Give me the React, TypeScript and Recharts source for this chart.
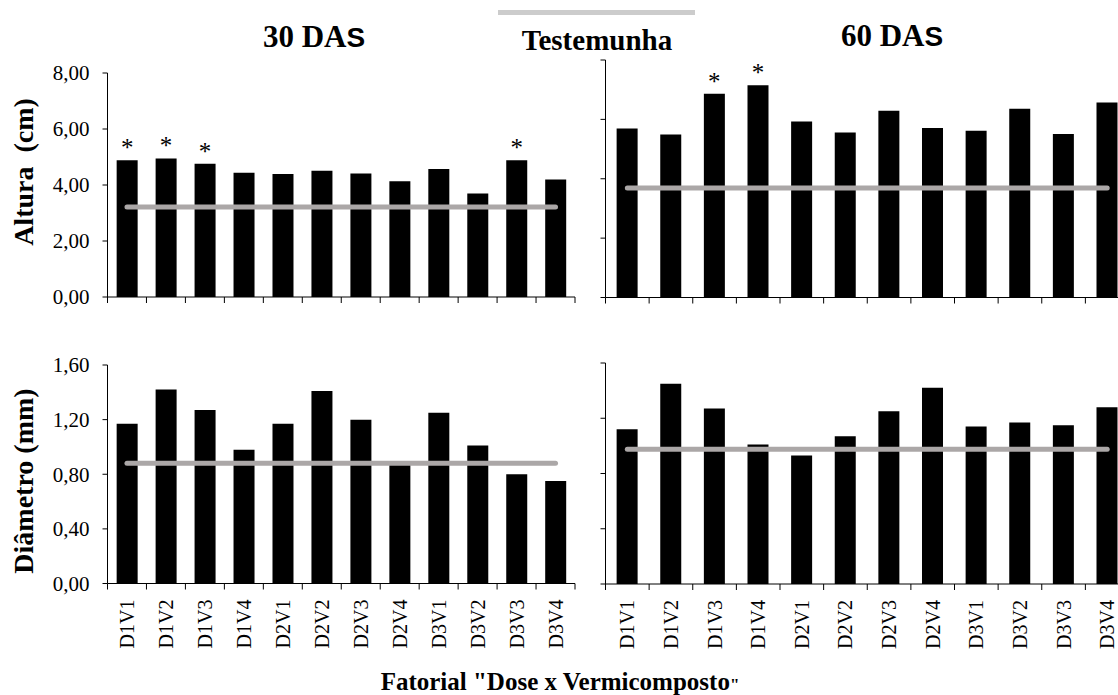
import React from 'react';
import { ComposedChart, Bar, Line, Scatter, XAxis, YAxis, LabelList } from 'recharts';

const categories = ['D1V1', 'D1V2', 'D1V3', 'D1V4', 'D2V1', 'D2V2', 'D2V3', 'D2V4', 'D3V1', 'D3V2', 'D3V3', 'D3V4'];

const altura30 = [4.88, 4.95, 4.76, 4.44, 4.39, 4.51, 4.41, 4.13, 4.57, 3.7, 4.88, 4.2];
const altura60 = [5.69, 5.49, 6.86, 7.15, 5.93, 5.56, 6.29, 5.71, 5.62, 6.36, 5.51, 6.57];
const diametro30 = [1.17, 1.42, 1.27, 0.98, 1.17, 1.41, 1.2, 0.87, 1.25, 1.01, 0.8, 0.75];
const diametro60 = [1.12, 1.45, 1.27, 1.01, 0.93, 1.07, 1.25, 1.42, 1.14, 1.17, 1.15, 1.28];

const testemunhaAltura30 = 3.21;
const testemunhaAltura60 = 3.69;
const testemunhaDiametro30 = 0.88;
const testemunhaDiametro60 = 0.975;

const sigAltura30 = ['*', '*', '*', '', '', '', '', '', '', '', '*', ''];
const sigAltura60 = ['', '', '*', '*', '', '', '', '', '', '', '', ''];
const noSig = ['', '', '', '', '', '', '', '', '', '', '', ''];

const alturaTicks = [0, 2, 4, 6, 8];
const diametroTicks = [0, 0.4, 0.8, 1.2, 1.6];
const boundaryTicks = [0, 1, 2, 3, 4, 5, 6, 7, 8, 9, 10, 11, 12];

const FONT = '"Liberation Serif", "Times New Roman", serif';
const SANS = '"Liberation Sans", Arial, sans-serif';

type Row = { name: string; pos: number; value: number; control: number; mark: string };

// pos = category slot centre on the 0..12 boundary axis (slot index + half a slot)
function build(values: number[], control: number, marks: string[]): Row[] {
  return categories.map((c, i) => ({ name: c, pos: i + 0.5, value: values[i], control, mark: marks[i] }));
}

// category boundaries, placed on the baseline (value 0) of the boundary axis
const boundaryData = boundaryTicks.map((b) => ({ pos: b, base: 0 }));

const fmt = (v: number) => v.toFixed(2).replace('.', ',');

function XLabelTick(props: any) {
  const { x, y, payload } = props;
  return (
    <text
      transform={`translate(${x},${y}) rotate(-90)`}
      textAnchor="end"
      dy="0.35em"
      fontFamily={FONT}
      fontSize={20}
      fill="#000"
    >
      {payload.value}
    </text>
  );
}

// Excel-style tick mark hanging below the category axis at a category boundary
function BoundaryMark(props: any) {
  const { cx, cy } = props;
  if (cx == null || cy == null) return <g />;
  return <line x1={cx} x2={cx} y1={cy} y2={cy + 6} stroke="#000" strokeWidth={1} />;
}

function EmptyTick() {
  return <g />;
}

type PanelProps = {
  data: Row[];
  ticks: number[];
  domainMax: number;
  showYLabels: boolean;
  showXLabels: boolean;
  left: number;
  top: number;
  width: number;
  height: number;
  margin: { top: number; right: number; bottom: number; left: number };
  yWidth: number;
  xHeight: number;
  gap: string;
};

function Panel(p: PanelProps) {
  return (
    <div style={{ position: 'absolute', left: p.left, top: p.top, width: p.width, height: p.height }}>
      <ComposedChart width={p.width} height={p.height} data={p.data} margin={p.margin} barCategoryGap={p.gap}>
        <XAxis
          xAxisId={0}
          dataKey="pos"
          type="number"
          domain={[0, 12]}
          ticks={boundaryTicks}
          interval={0}
          height={1}
          tick={false}
          tickLine={false}
          stroke="#000"
          axisLine={{ stroke: '#000' }}
        />
        <XAxis
          xAxisId={1}
          dataKey="name"
          type="category"
          hide={!p.showXLabels}
          height={p.xHeight}
          axisLine={false}
          tickLine={false}
          tickSize={6}
          tickMargin={9}
          interval={0}
          tick={<XLabelTick />}
        />
        <YAxis
          domain={[0, p.domainMax]}
          ticks={p.ticks}
          interval={0}
          width={p.yWidth}
          stroke="#000"
          tickSize={5}
          tickMargin={13}
          tickFormatter={fmt}
          tick={p.showYLabels ? { fontFamily: FONT, fontSize: 21, fill: '#000' } : <EmptyTick />}
          axisLine={{ stroke: '#000' }}
          tickLine={{ stroke: '#000' }}
        />
        <Bar xAxisId={1} dataKey="value" fill="#000" isAnimationActive={false}>
          <LabelList dataKey="mark" position="top" offset={4} fill="#000" fontSize={25} fontFamily={FONT} />
        </Bar>
        <Line
          xAxisId={0}
          dataKey="control"
          stroke="#aba7a7"
          strokeWidth={5}
          strokeLinecap="round"
          dot={false}
          activeDot={false}
          isAnimationActive={false}
        />
        <Scatter
          xAxisId={0}
          data={boundaryData}
          dataKey="base"
          shape={<BoundaryMark />}
          isAnimationActive={false}
        />
      </ComposedChart>
    </div>
  );
}

export default function App() {
  return (
    <div
      style={{
        position: 'absolute',
        left: 0,
        top: 0,
        width: 1118,
        height: 695,
        overflow: 'hidden',
        background: '#fff',
      }}
    >
      <Panel
        data={build(altura30, testemunhaAltura30, sigAltura30)}
        ticks={alturaTicks}
        domainMax={8}
        showYLabels
        showXLabels={false}
        left={0}
        top={48.5}
        width={580}
        height={270}
        margin={{ top: 24, right: 5, bottom: 21, left: 0 }}
        yWidth={107.5}
        xHeight={0}
        gap="23.5%"
      />
      <Panel
        data={build(altura60, testemunhaAltura60, sigAltura60)}
        ticks={alturaTicks}
        domainMax={8}
        showYLabels={false}
        showXLabels={false}
        left={560}
        top={40}
        width={575}
        height={280}
        margin={{ top: 20, right: 6, bottom: 21.5, left: 0 }}
        yWidth={45.5}
        xHeight={0}
        gap="25.5%"
      />
      <Panel
        data={build(diametro30, testemunhaDiametro30, noSig)}
        ticks={diametroTicks}
        domainMax={1.6}
        showYLabels
        showXLabels
        left={0}
        top={345}
        width={580}
        height={340}
        margin={{ top: 20, right: 5, bottom: 0, left: 0 }}
        yWidth={107.5}
        xHeight={100.5}
        gap="23.5%"
      />
      <Panel
        data={build(diametro60, testemunhaDiametro60, noSig)}
        ticks={diametroTicks}
        domainMax={1.6}
        showYLabels={false}
        showXLabels
        left={560}
        top={342.5}
        width={575}
        height={340}
        margin={{ top: 20, right: 6, bottom: 0, left: 0 }}
        yWidth={45.5}
        xHeight={98}
        gap="25.5%"
      />
      <svg
        width={1118}
        height={695}
        style={{ position: 'absolute', left: 0, top: 0, pointerEvents: 'none' }}
      >
        <text x={314} y={47} textAnchor="middle" fontFamily={FONT} fontSize={31} fontWeight="bold" fill="#000">
          30 DA<tspan fontFamily={SANS} fontSize={28}>S</tspan>
        </text>
        <text x={892} y={46} textAnchor="middle" fontFamily={FONT} fontSize={31} fontWeight="bold" fill="#000">
          60 DA<tspan fontFamily={SANS} fontSize={28}>S</tspan>
        </text>
        <line x1={498} y1={12.5} x2={695} y2={12.5} stroke="#cccccc" strokeWidth={5} />
        <text x={597} y={50} textAnchor="middle" fontFamily={FONT} fontSize={29} fontWeight="bold" fill="#000">
          Testemunha
        </text>
        <text
          transform="translate(33,172) rotate(-90)"
          textAnchor="middle"
          fontFamily={FONT}
          fontSize={28}
          fontWeight="bold"
          fill="#000"
          style={{ whiteSpace: 'pre' }}
        >
          {'Altura  (cm)'}
        </text>
        <text
          transform="translate(33,481) rotate(-90)"
          textAnchor="middle"
          fontFamily={FONT}
          fontSize={28}
          fontWeight="bold"
          fill="#000"
        >
          Diâmetro (mm)
        </text>
        <text x={560} y={690} textAnchor="middle" fontFamily={FONT} fontSize={25} fontWeight="bold" fill="#000">
          Fatorial "Dose x Vermicomposto<tspan fontSize={17}>"</tspan>
        </text>
      </svg>
    </div>
  );
}
